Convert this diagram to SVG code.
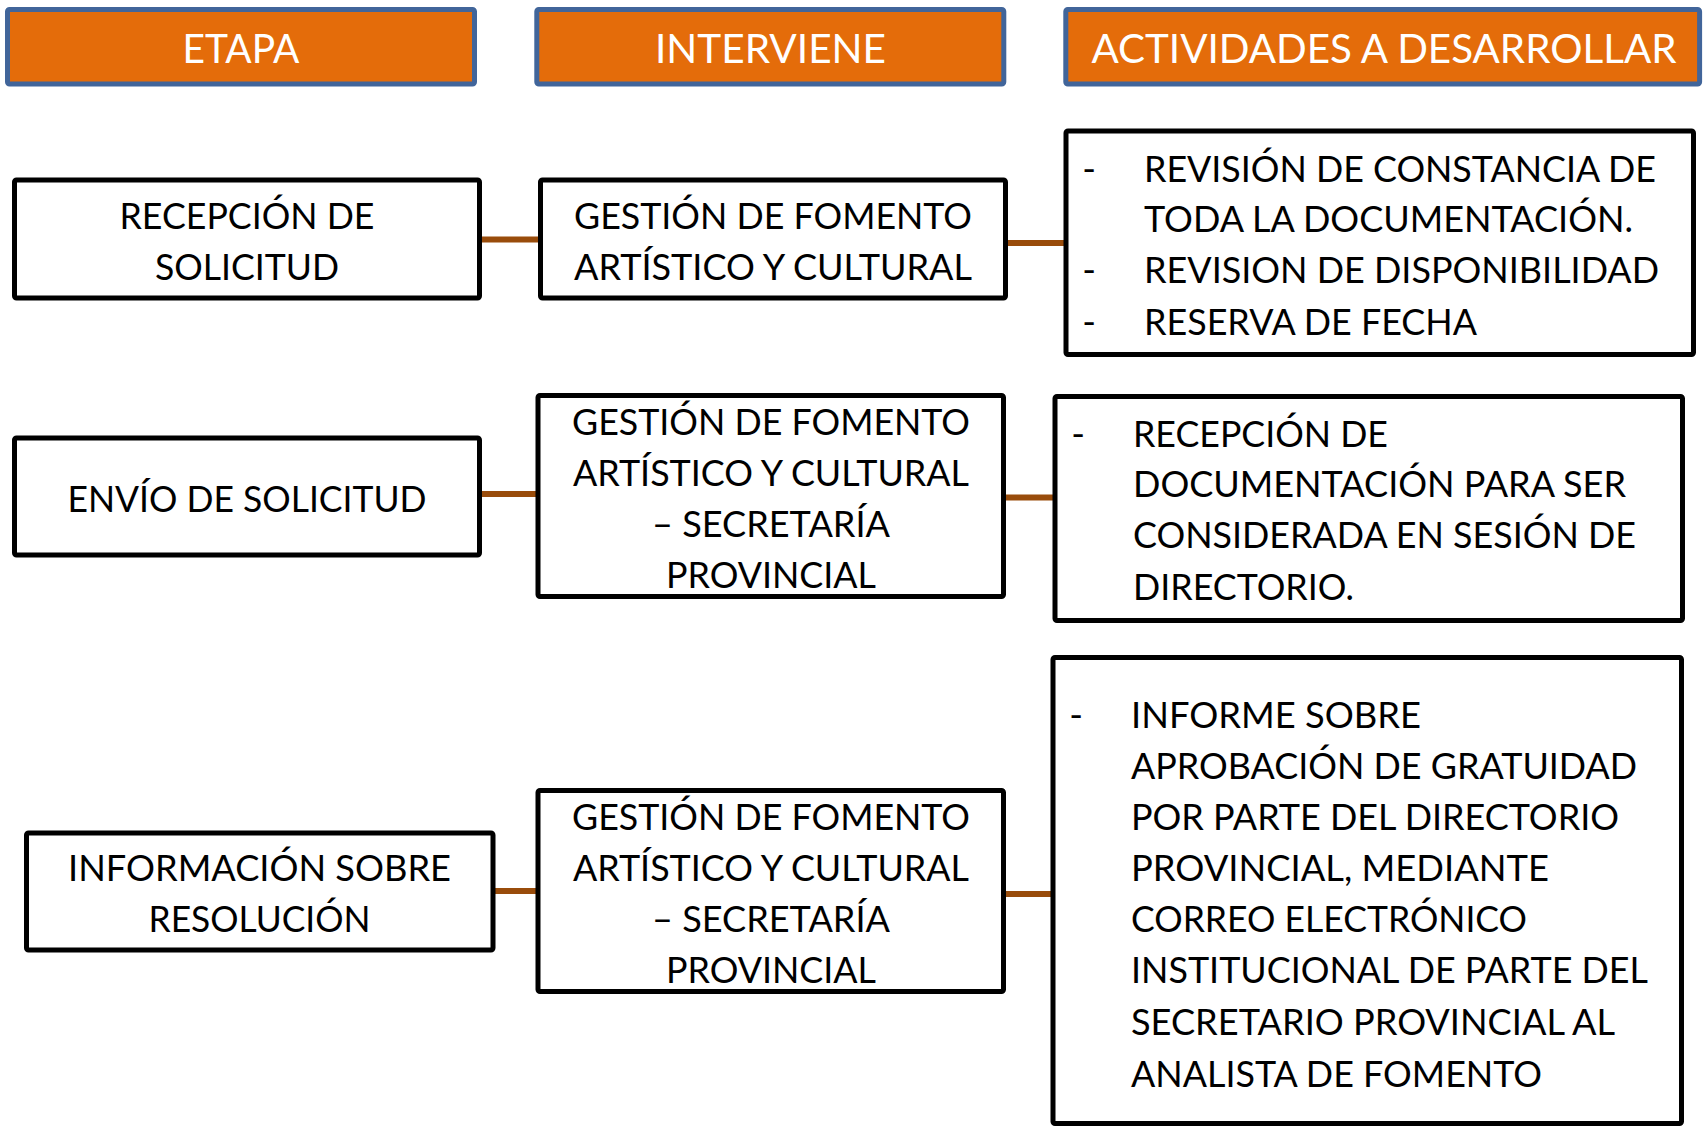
<svg xmlns="http://www.w3.org/2000/svg" width="1707" height="1127" viewBox="0 0 1707 1127">
<style>
.hdr{fill:#E46C0A;stroke:#41659A;stroke-width:5}
.box{fill:#FFFFFF;stroke:#000000;stroke-width:5}
.ht{font-family:Lato,"Open Sans","Liberation Sans",sans-serif;font-size:41px;fill:#FFFFFF;text-anchor:middle}
.t{font-family:Lato,"Open Sans","Liberation Sans",sans-serif;font-size:37px;fill:#000000}
.c{text-anchor:middle}
.conn{stroke:#994C0B;stroke-width:6;fill:none}
</style>
<rect width="1707" height="1127" fill="#FFFFFF"/>
<g id="connectors">
<line class="conn" x1="482" y1="239.5" x2="538" y2="239.5"/>
<line class="conn" x1="1008" y1="243" x2="1064" y2="243"/>
<line class="conn" x1="482" y1="494" x2="536" y2="494"/>
<line class="conn" x1="1006" y1="497.5" x2="1053" y2="497.5"/>
<line class="conn" x1="495" y1="891" x2="536" y2="891"/>
<line class="conn" x1="1006" y1="894" x2="1051" y2="894"/>
</g>
<g id="header-etapa">
<rect class="hdr" x="7.5" y="9.5" width="467" height="74.5" rx="2"/>
<text class="ht" x="241" y="63" textLength="117" lengthAdjust="spacingAndGlyphs">ETAPA</text>
</g>
<g id="header-interviene">
<rect class="hdr" x="536.8" y="9.5" width="467" height="74.5" rx="2"/>
<text class="ht" x="770.5" y="63" textLength="231" lengthAdjust="spacingAndGlyphs">INTERVIENE</text>
</g>
<g id="header-actividades">
<rect class="hdr" x="1065.8" y="9.5" width="633.8" height="74.5" rx="2"/>
<text class="ht" x="1384" y="63" textLength="585" lengthAdjust="spacingAndGlyphs">ACTIVIDADES A DESARROLLAR</text>
</g>
<g id="etapa-1">
<rect class="box" x="14.5" y="180" width="465" height="118" rx="2"/>
<text class="t c" x="247" y="229" textLength="255" lengthAdjust="spacingAndGlyphs">RECEPCIÓN DE</text>
<text class="t c" x="247" y="280" textLength="184" lengthAdjust="spacingAndGlyphs">SOLICITUD</text>
</g>
<g id="interviene-1">
<rect class="box" x="540.5" y="180" width="465" height="118" rx="2"/>
<text class="t c" x="773" y="229" textLength="398" lengthAdjust="spacingAndGlyphs">GESTIÓN DE FOMENTO</text>
<text class="t c" x="773" y="280" textLength="398" lengthAdjust="spacingAndGlyphs">ARTÍSTICO Y CULTURAL</text>
</g>
<g id="actividades-1">
<rect class="box" x="1066" y="131" width="627.5" height="223.5" rx="2"/>
<text class="t c" x="1089" y="182">-</text>
<text class="t" x="1144" y="182" textLength="512" lengthAdjust="spacingAndGlyphs">REVISIÓN DE CONSTANCIA DE</text>
<text class="t" x="1144" y="232" textLength="489" lengthAdjust="spacingAndGlyphs">TODA LA DOCUMENTACIÓN.</text>
<text class="t c" x="1089" y="283">-</text>
<text class="t" x="1144" y="283" textLength="515" lengthAdjust="spacingAndGlyphs">REVISION DE DISPONIBILIDAD</text>
<text class="t c" x="1089" y="335">-</text>
<text class="t" x="1144" y="335" textLength="333" lengthAdjust="spacingAndGlyphs">RESERVA DE FECHA</text>
</g>
<g id="etapa-2">
<rect class="box" x="14.5" y="438" width="465" height="117" rx="2"/>
<text class="t c" x="247" y="511.5" textLength="359" lengthAdjust="spacingAndGlyphs">ENVÍO DE SOLICITUD</text>
</g>
<g id="interviene-2">
<rect class="box" x="538" y="395.5" width="465.5" height="201" rx="2"/>
<text class="t c" x="771" y="434.5" textLength="398" lengthAdjust="spacingAndGlyphs">GESTIÓN DE FOMENTO</text>
<text class="t c" x="771" y="485.5" textLength="396" lengthAdjust="spacingAndGlyphs">ARTÍSTICO Y CULTURAL</text>
<text class="t c" x="771" y="536.5" textLength="238" lengthAdjust="spacingAndGlyphs">– SECRETARÍA</text>
<text class="t c" x="771" y="588" textLength="210" lengthAdjust="spacingAndGlyphs">PROVINCIAL</text>
</g>
<g id="actividades-2">
<rect class="box" x="1055" y="396.5" width="627.5" height="224" rx="2"/>
<text class="t c" x="1078" y="446.5">-</text>
<text class="t" x="1133" y="446.5" textLength="255" lengthAdjust="spacingAndGlyphs">RECEPCIÓN DE</text>
<text class="t" x="1133" y="497" textLength="493" lengthAdjust="spacingAndGlyphs">DOCUMENTACIÓN PARA SER</text>
<text class="t" x="1133" y="548" textLength="503" lengthAdjust="spacingAndGlyphs">CONSIDERADA EN SESIÓN DE</text>
<text class="t" x="1133" y="600" textLength="221" lengthAdjust="spacingAndGlyphs">DIRECTORIO.</text>
</g>
<g id="etapa-3">
<rect class="box" x="26.5" y="833" width="466.5" height="117" rx="2"/>
<text class="t c" x="259.5" y="881" textLength="383" lengthAdjust="spacingAndGlyphs">INFORMACIÓN SOBRE</text>
<text class="t c" x="259.5" y="932" textLength="222" lengthAdjust="spacingAndGlyphs">RESOLUCIÓN</text>
</g>
<g id="interviene-3">
<rect class="box" x="538" y="790.5" width="465.5" height="201" rx="2"/>
<text class="t c" x="771" y="829.5" textLength="398" lengthAdjust="spacingAndGlyphs">GESTIÓN DE FOMENTO</text>
<text class="t c" x="771" y="881" textLength="396" lengthAdjust="spacingAndGlyphs">ARTÍSTICO Y CULTURAL</text>
<text class="t c" x="771" y="932" textLength="238" lengthAdjust="spacingAndGlyphs">– SECRETARÍA</text>
<text class="t c" x="771" y="983" textLength="210" lengthAdjust="spacingAndGlyphs">PROVINCIAL</text>
</g>
<g id="actividades-3">
<rect class="box" x="1053" y="657.5" width="628.5" height="466" rx="2"/>
<text class="t c" x="1076" y="727.5">-</text>
<text class="t" x="1131" y="727.5" textLength="290" lengthAdjust="spacingAndGlyphs">INFORME SOBRE</text>
<text class="t" x="1131" y="778.5" textLength="506" lengthAdjust="spacingAndGlyphs">APROBACIÓN DE GRATUIDAD</text>
<text class="t" x="1131" y="829.5" textLength="488" lengthAdjust="spacingAndGlyphs">POR PARTE DEL DIRECTORIO</text>
<text class="t" x="1131" y="881" textLength="418" lengthAdjust="spacingAndGlyphs">PROVINCIAL, MEDIANTE</text>
<text class="t" x="1131" y="932" textLength="396" lengthAdjust="spacingAndGlyphs">CORREO ELECTRÓNICO</text>
<text class="t" x="1131" y="983" textLength="517" lengthAdjust="spacingAndGlyphs">INSTITUCIONAL DE PARTE DEL</text>
<text class="t" x="1131" y="1034.5" textLength="484" lengthAdjust="spacingAndGlyphs">SECRETARIO PROVINCIAL AL</text>
<text class="t" x="1131" y="1086.5" textLength="411" lengthAdjust="spacingAndGlyphs">ANALISTA DE FOMENTO</text>
</g>
</svg>
